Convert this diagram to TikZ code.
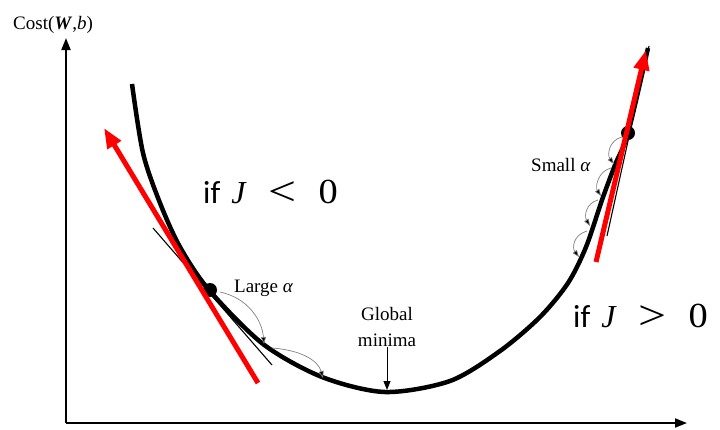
\documentclass[tikz,border=0pt]{standalone}
\usepackage{fontspec}
\usepackage{graphicx}
\setmainfont{Liberation Serif}
\newfontfamily\calibrifont{Carlito}
\newfontfamily\mathlikefont{Liberation Serif}
\usetikzlibrary{arrows.meta}
\newcommand{\ifcond}[1]{if\hspace{11pt}{\mathlikefont\fontsize{32}{38}\selectfont\textit{J}\hspace{22pt}\raisebox{-2pt}{\scalebox{1.55}[1.3]{#1}}\hspace{22pt}\scalebox{1.2}[1.1]{0}}}
\begin{document}
\begin{tikzpicture}[x=1pt,y=-1pt,
  axisline/.style={line width=1.8pt,-{Triangle[length=12pt,width=9pt]}},
  costcurve/.style={line width=4.5pt},
  redarrow/.style={draw=red,line width=5pt,-{Triangle[length=20pt,width=15pt]}},
  tangentline/.style={line width=1.1pt},
  steparc/.style={draw=gray,line width=0.7pt,-{Triangle[length=7pt,width=5pt,fill=black]}},
  serif/.style={font=\fontsize{19}{23}\selectfont,inner sep=0pt},
  bigtxt/.style={font=\calibrifont\fontsize{32}{38}\selectfont,inner sep=0pt},
  dotnode/.style={circle,fill=black,minimum size=14pt,inner sep=0pt}]
\useasboundingbox (0,0) rectangle (720,429);
% axes
\coordinate (origin) at (66,423);
\coordinate (ytip) at (66,38);
\coordinate (xtip) at (687,423);
\draw[axisline] (origin) -- (ytip);
\draw[axisline] (origin) -- (xtip);
\node[serif,anchor=base west] (ylabel) at (13,29) {Cost(\textbf{\textit{W}},\textit{b})};
% curve
\draw[costcurve] plot[smooth,tension=0.5] coordinates {(132,84) (143,153) (160,203) (180,247) (209,290) (263,344) (322,377) (385,392) (450,381) (500,351) (540,317) (568,283) (586,247) (602,200) (615,165) (628,133) (648,48)};
% thin tangents
\coordinate (lt1) at (153,228);
\coordinate (lt2) at (272,365);
\draw[tangentline] (lt1) -- (lt2);
\coordinate (rt1) at (649,46);
\coordinate (rt2) at (607,236);
\draw[tangentline] (rt1) -- (rt2);
% dots
\node[dotnode] (ldot) at (210,290) {};
\node[dotnode] (rdot) at (628,133) {};
% step arcs left
\coordinate (la1) at (220,292);
\coordinate (la2) at (264,344);
\coordinate (la3) at (272,348);
\coordinate (la4) at (323,378);
\draw[steparc] (la1) .. controls (248,298) and (262,320) .. (la2);
\draw[steparc] (la3) .. controls (300,350) and (318,360) .. (la4);
% step arcs right
\coordinate (ra1) at (622,137);
\coordinate (ra2) at (614,164);
\coordinate (ra3) at (611,168);
\coordinate (ra4) at (601,196);
\coordinate (ra5) at (598,200);
\coordinate (ra6) at (590,226);
\coordinate (ra7) at (587,231);
\coordinate (ra8) at (579,257);
\draw[steparc] (ra1) .. controls (609,140) and (607,155) .. (ra2);
\draw[steparc] (ra3) .. controls (598,171) and (595,187) .. (ra4);
\draw[steparc] (ra5) .. controls (586,203) and (584,216) .. (ra6);
\draw[steparc] (ra7) .. controls (573,235) and (572,248) .. (ra8);
% red arrows
\coordinate (lr1) at (258,383);
\coordinate (lr2) at (104,128);
\draw[redarrow] (lr1) -- (lr2);
\coordinate (rr1) at (596,262);
\coordinate (rr2) at (646,50);
\draw[redarrow] (rr1) -- (rr2);
% labels
\node[serif,anchor=base west] (large) at (234,292) {Large \textit{α}};
\node[serif,anchor=base west] (small) at (531,171) {Small \textit{α}};
\node[serif,align=center,anchor=south] (minima) at (387,347) {Global\\[3pt]minima};
\coordinate (mintip) at (387,390);
\draw[line width=1pt,-{Triangle[length=9pt,width=7pt]}] (minima) -- (mintip);
\node[bigtxt,anchor=base west] (neg) at (203,203) {\ifcond{<}};
\node[bigtxt,anchor=base west] (pos) at (573,327) {\ifcond{>}};
\end{tikzpicture}
\end{document}
